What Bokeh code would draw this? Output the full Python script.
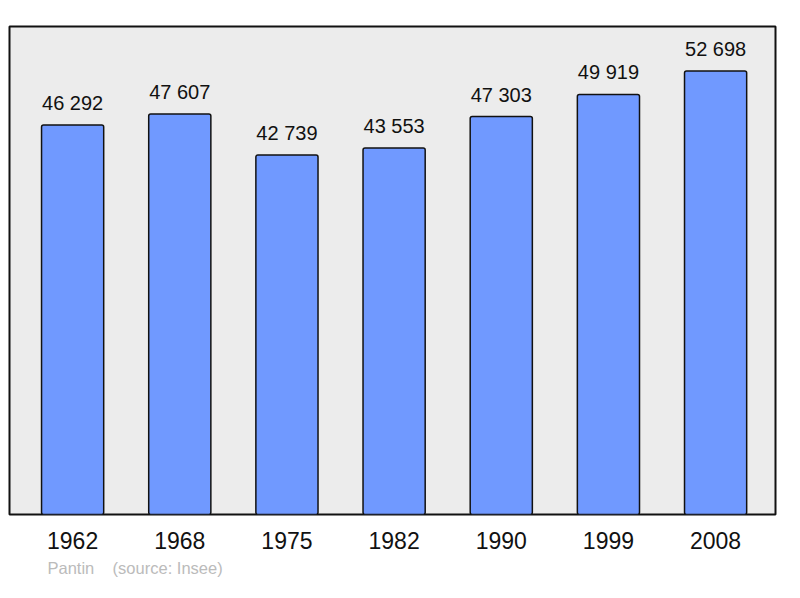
from bokeh.plotting import figure
from bokeh.models import ColumnDataSource, Range1d, FixedTicker, Title
from bokeh.core.properties import value
from bokeh.embed import file_html
from bokeh.resources import INLINE

years = ["1962", "1968", "1975", "1982", "1990", "1999", "2008"]
population = [46292, 47607, 42739, 43553, 47303, 49919, 52698]
value_labels = ["46 292", "47 607", "42 739", "43 553", "47 303", "49 919", "52 698"]
town = "Pantin"
source_note = "(source: Insee)"

FONT = "Liberation Sans"

src = ColumnDataSource(dict(
    x=list(range(len(years))),
    pop=population,
    lab=value_labels,
))

p = figure(width=784, height=582, output_backend="svg", toolbar_location=None,
           x_range=Range1d(-0.589, 6.559), y_range=Range1d(0, 58000),
           min_border_left=9, min_border_right=9, min_border_top=26, min_border_bottom=68)

p.background_fill_color = "#ececec"
p.border_fill_color = "white"
p.outline_line_color = "#111111"
p.outline_line_width = 2
p.grid.visible = False
p.yaxis.visible = False

p.vbar(x="x", top="pop", bottom=0, width=0.58, source=src,
       fill_color="#7099ff", line_color="#111111", line_width=1.5, border_radius=2)

p.text(x="x", y="pop", text="lab", source=src, y_offset=-22,
       text_align="center", text_baseline="alphabetic",
       text_font=value(FONT), text_font_size="20px", text_color="#111111")

xa = p.xaxis[0]
xa.ticker = FixedTicker(ticks=list(range(len(years))))
xa.major_label_overrides = {i: y for i, y in enumerate(years)}
xa.axis_line_color = None
xa.major_tick_line_color = None
xa.minor_tick_line_color = None
xa.major_tick_out = 0
xa.major_tick_in = 0
xa.major_label_standoff = 17
xa.major_label_text_font = FONT
xa.major_label_text_font_size = "23px"
xa.major_label_text_color = "#111111"

note = Title(text=town + "\u00a0\u00a0\u00a0\u00a0" + source_note, align="left",
             offset=38, standoff=11, text_font=FONT, text_font_size="16.5px",
             text_font_style="normal", text_color="#bbbbbb")
p.add_layout(note, "below")

open("out.html", "w").write(file_html(p, INLINE))
